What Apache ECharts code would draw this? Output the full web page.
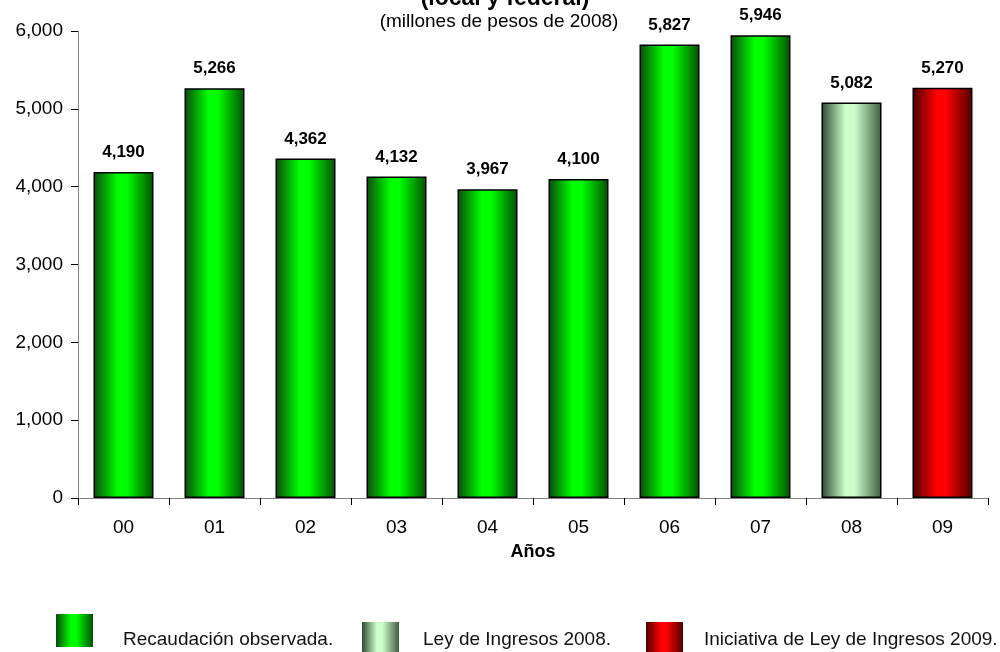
<!DOCTYPE html>
<html>
<head>
<meta charset="utf-8">
<script src="https://cdn.jsdelivr.net/npm/echarts@6/dist/echarts.min.js"></script>
<style>
html,body{margin:0;padding:0;background:#fff;}
#c{width:1000px;height:652px;}
</style>
</head>
<body>
<div id="c"></div>
<script>
const categories = ['00','01','02','03','04','05','06','07','08','09'];
const observada = [4190, 5266, 4362, 4132, 3967, 4100, 5827, 5946, null, null];
const ley2008 = [null, null, null, null, null, null, null, null, 5082, null];
const iniciativa2009 = [null, null, null, null, null, null, null, null, null, 5270];
const seriesNames = ['Recaudación observada.', 'Ley de Ingresos 2008.', 'Iniciativa de Ley de Ingresos 2009.'];
const yTicks = { min: 0, max: 6000, interval: 1000 };

const FONT = '"Liberation Sans", Arial, sans-serif';

function grad(dark1, bright, dark2) {
  return new echarts.graphic.LinearGradient(0, 0, 1, 0, [
    { offset: 0, color: dark1 },
    { offset: 0.4, color: bright },
    { offset: 0.55, color: bright },
    { offset: 1, color: dark2 }
  ]);
}
const greenG = grad('#0a4a0a', '#00ff00', '#005000');
const lightG = grad('#2f4a2f', '#ccffcc', '#3f5c3f');
const redG = grad('#4a0000', '#ff0000', '#500000');
const seriesColors = [greenG, lightG, redG];

function fmt(v) { return Number(v).toLocaleString('en-US'); }

const labelCfg = {
  show: true, position: 'top', distance: 11,
  fontFamily: FONT, fontSize: 17, fontWeight: 'bold', color: '#000',
  formatter: p => fmt(p.value)
};

function barSeries(name, data, color) {
  return {
    name: name, type: 'bar', data: data, barWidth: 60, barGap: '-100%',
    itemStyle: { color: color, borderColor: '#000', borderWidth: 1.5 },
    label: labelCfg,
    emphasis: { disabled: true }
  };
}

// legend drawn as graphic: icon boxes and texts
const legendIcons = [
  { x: 56, y: 614, w: 37, h: 33 },
  { x: 362, y: 622, w: 37, h: 30 },
  { x: 646, y: 622, w: 37, h: 30 }
];
const legendTextX = [123, 423, 704];
const legendGraphics = [];
seriesNames.forEach((n, i) => {
  const ic = legendIcons[i];
  legendGraphics.push({
    type: 'rect', shape: { x: ic.x, y: ic.y, width: ic.w, height: ic.h },
    style: { fill: seriesColors[i] }, silent: true
  });
  legendGraphics.push({
    type: 'text', x: legendTextX[i], y: 640,
    style: { text: n, font: '19px ' + FONT, fill: '#111', textAlign: 'left', textVerticalAlign: 'middle' },
    silent: true
  });
});

const chart = echarts.init(document.getElementById('c'), null, { renderer: 'canvas' });
chart.setOption({
  animation: false,
  backgroundColor: '#fff',
  title: [
    { text: '(local y federal)', left: 500, textAlign: 'center', top: -18,
      textStyle: { fontFamily: FONT, fontSize: 23, fontWeight: 'bold', color: '#000' } },
    { text: '(millones de pesos de 2008)', left: 494, textAlign: 'center', top: 7,
      textStyle: { fontFamily: FONT, fontSize: 19, fontWeight: 'normal', color: '#000' } }
  ],
  graphic: legendGraphics,
  grid: { left: 78, right: 12, top: 31, bottom: 154 },
  xAxis: {
    type: 'category', data: categories,
    name: 'Años', nameLocation: 'middle', nameGap: 45,
    nameTextStyle: { fontFamily: FONT, fontSize: 18, fontWeight: 'bold', color: '#000' },
    axisLine: { lineStyle: { color: '#808080', width: 1 } },
    axisTick: { show: true, length: 7, alignWithLabel: false, lineStyle: { color: '#000' } },
    axisLabel: { fontFamily: FONT, fontSize: 19, color: '#000', margin: 20 },
    splitLine: { show: false }
  },
  yAxis: {
    type: 'value', min: yTicks.min, max: yTicks.max, interval: yTicks.interval,
    axisLine: { show: true, lineStyle: { color: '#808080', width: 1 } },
    axisTick: { show: true, length: 7, lineStyle: { color: '#000' } },
    axisLabel: { fontFamily: FONT, fontSize: 19, color: '#000', margin: 15, formatter: v => fmt(v) },
    splitLine: { show: false }
  },
  series: [
    barSeries(seriesNames[0], observada, greenG),
    barSeries(seriesNames[1], ley2008, lightG),
    barSeries(seriesNames[2], iniciativa2009, redG)
  ]
});
</script>
</body>
</html>
